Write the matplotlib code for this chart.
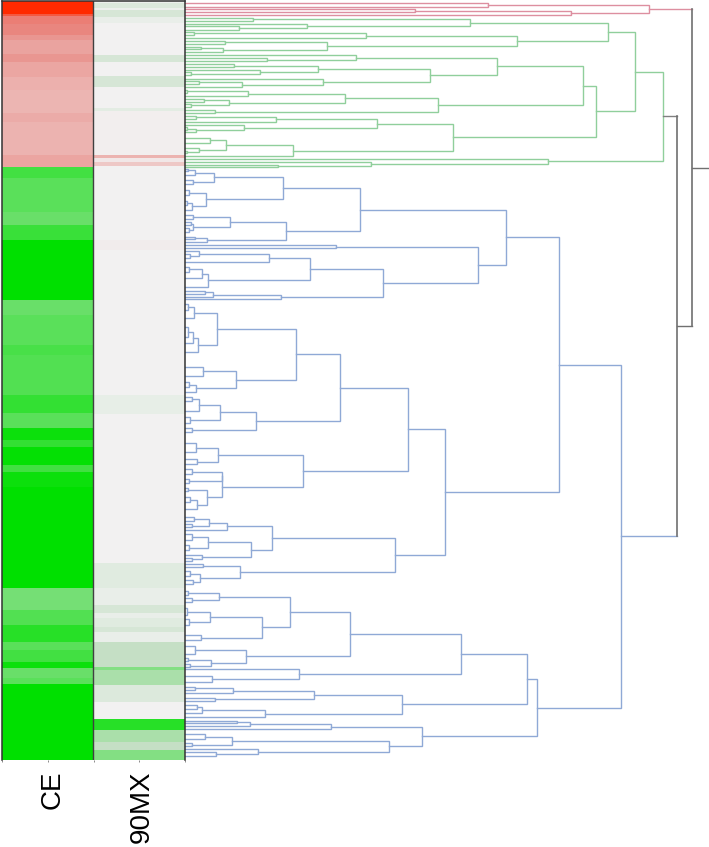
import numpy as np
import matplotlib
matplotlib.use('Agg')
import matplotlib.pyplot as plt
from matplotlib.colors import LinearSegmentedColormap
from matplotlib.transforms import ScaledTranslation

columns = ['CE', '90MX']

ce_edges = [0, 14, 16, 24, 35, 40, 54, 62, 77, 90, 113, 122, 155, 167, 178, 212, 225, 240, 300, 315, 345, 355, 395,
            413, 428, 440, 447, 465, 472, 487, 588, 610, 625, 642, 650, 662, 668, 678, 684, 760]
ce_values = [1.0, 0.75, 0.56, 0.52, 0.44, 0.38, 0.44, 0.36, 0.32, 0.29, 0.34, 0.3, 0.37, -0.75, -0.65, -0.6, -0.78,
             -1.0, -0.6, -0.65, -0.72, -0.68, -0.8, -0.65, -0.95, -0.8, -0.98, -0.75, -0.95, -1.0, -0.55, -0.68,
             -0.85, -0.65, -0.75, -0.95, -0.6, -0.65, -1.0]

mx_edges = [0, 3, 8, 10, 17, 23, 55, 62, 76, 87, 108, 111, 155, 158, 162, 166, 240, 250, 395, 414, 563, 588, 605, 613,
            618, 627, 632, 642, 667, 670, 685, 702, 719, 730, 742, 750, 760]
mx_values = [-0.03, -0.12, -0.03, -0.15, -0.05, 0, -0.15, 0, -0.15, 0, -0.08, 0.02, 0.3, 0.05, 0.2, 0, 0.03, 0,
             -0.06, 0, -0.1, -0.05, -0.15, -0.05, -0.1, -0.15, -0.05, -0.25, -0.5, -0.35, -0.12, 0, -0.85, -0.35,
             -0.25, -0.5]

# trees: (merge height, child, child), a plain number is a leaf row
red_tree = (649, (488, 2.7, 6.8), (571, (415, 8.8, 12.2), 15.2))

green_tree = (663,
    (635,
        (608,
            (470, (253, 17.9, 20.9), (307, 23.6, (239, 26.4, 29.7))),
            (517,
                (366, (194, 32.1, 34.8), 37.8),
                (327, (225, 40.9, 43.9), (223, (201, 46.6, 49.3), 52.4)))),
        (596,
            (583,
                (497,
                    (356, 55.4, (267, 58.1, 61.1)),
                    (430,
                        (318, (234, 64.2, 66.9), (260, 69.9, (191, 72.3, 75))),
                        (323, 78.7, (242, (199, 81.1, 83.8), 86.8)))),
                (438,
                    (345,
                        (248, (187, 89.9, 92.6), 95.9),
                        (229, (204, 98.6, 101.7), (191, 104, 106.8))),
                    (215, 109.8, 113.2))),
            (453,
                (377,
                    (276, (196, 115.9, 118.6), 121.6),
                    (244, 125, (196, (187, 127.4, 130), 132))),
                (293,
                    (226, (210, 137.5, 143.2), (199, 147.6, (187, 151, 153))),
                    156)))),
    (548, 158.8, (371, 162.2, (278, 165.2, 166.6))))

blue_top = (506,
    (360,
        (283,
            (214, (195, (188, 169, 171), 175), (193, 180.3, 184)),
            (206, (189, 190.3, 195), (192, (187, 200.5, 204.5), 209.7))),
        (286,
            (230, (193, 215.3, 219.3), (193, (191, 222, 225), (189, 228, 232))),
            (207, (195, 236.7, 239), 242.3))),
    (478,
        (336, 245.3, 248),
        (383,
            (310,
                (269, (199, 251, (190, 253.7, 258.3)), 262.3),
                (208, (202, (189, 266.7, 271.7), 278.3), 286.7)),
            (281, (213, (205, 291, 293.7), 296.7), 299.3))))

blue_mid = (408,
    (340,
        (296,
            (217, (194, (188, 304, 310), 318.3),
                (198, (193, (188, 327.3, 336.7), 343.3), 352.3)),
            (236, (203, 366.7, 375.7), (196, (189, 382.3, 386.7), 391.7))),
        (256,
            (220, (199, (192, 396.7, 401), 411), (190, 417.3, 422.7)),
            (192, 427.7, 432.3))),
    (303,
        (218, (196, 443.3, 451.7), (197, 459.3, 464.3)),
        (222,
            (222, (192, 469, 474), (189, 479.3, 482.7)),
            (207, (188, 488.3, 491), (197, (190, 497.3, 502.3), 509.3)))))

blue_low = (395,
    (272,
        (227, (209, (194, 517.3, 521.3), (192, 524.3, 527.3)), 529.7),
        (251, (208, (192, 534.3, 539.7), (189, 545.3, 549.7)), (202, 554.7, (192, 558, 560.5)))),
    (240, (203, 564, 567), (200, (190, 571, 576), (193, 580, 584))))

blue_bottom = (537,
    (527,
        (461,
            (350,
                (290,
                    (219, (188, 591, 595), (192, 598.3, 602.3)),
                    (262, (210, (187, 608.3, 615), (189, 619.3, 625)), (201, 635, 640))),
                (246, (195, 646, 654), (211, (188, 658, 661), (190, 664, 667)))),
            (299, 669.3, (212, 675.7, 682))),
        (402,
            (314, (233, (195, 686.5, 689.5), 693.3), (215, 698, 700.7)),
            (265, (202, (197, 705, 709), 713.3), 717.3))),
    (422,
        (331, (250, (237, 720.7, 723.3), 726.3), 729.3),
        (389,
            (232, (205, 734, 739), (192, 743.3, 746)),
            (258, 749.3, (216, 752, 756)))))

blue_tree = (621, (559, blue_top, (445, blue_mid, blue_low)), blue_bottom)

link_low = 677
link_high = 692
leaf_height = 185

cmap = LinearSegmentedColormap.from_list('rg', [(0, '#00e000'), (0.375, '#c4dfc4'), (0.5, '#f2f2f2'),
                                                (0.75, '#e88a85'), (1, '#ff2a00')])


def draw_tree(ax, node, color):
    # returns (height, row) of the node, draws its bracket
    if not isinstance(node, tuple):
        return leaf_height, node
    h, a, b = node
    ha, ya = draw_tree(ax, a, color)
    hb, yb = draw_tree(ax, b, color)
    ax.plot([ha, h, h, hb], [ya, ya, yb, yb], color=color, lw=1.0, solid_joinstyle='miter')
    return h, (ya + yb) / 2


fig = plt.figure(figsize=(7.09, 8.47), dpi=100)
W, H = 709, 847
ax = fig.add_axes([2 / W, 1 - 760 / H, 183 / W, 759 / H])
ax.pcolormesh([0, 1], ce_edges, np.array(ce_values)[:, None], cmap=cmap, vmin=-1, vmax=1)
ax.pcolormesh([1, 2], mx_edges, np.array(mx_values)[:, None], cmap=cmap, vmin=-1, vmax=1)
ax.set_xlim(0, 2)
ax.set_ylim(760, 1)
ax.axvline(0.99, color='#404040', lw=1.0)
ax.set_yticks([])
ax.set_xticks([0.5, 1.5])
ax.set_xticks([0, 1, 2], minor=True)
ax.set_xticklabels(columns, rotation=90, family='Liberation Sans', fontsize=20, va='top')
ax.tick_params(axis='x', which='both', length=1.5, width=0.6, color='#777777', pad=6)
ax.spines['bottom'].set_visible(False)
for s in ['top', 'left', 'right']:
    ax.spines[s].set_linewidth(1.1)
    ax.spines[s].set_color('#333333')
for label, dx in zip(ax.get_xticklabels(), [5, 3]):
    label.set_transform(label.get_transform() + ScaledTranslation(dx / 100, 0, fig.dpi_scale_trans))

dn = fig.add_axes([185 / W, 1 - 760 / H, 524 / W, 759 / H])
dn.patch.set_alpha(0)
dn.set_xlim(185, 709)
dn.set_ylim(760, 1)
dn.axis('off')
dn.set_zorder(-1)

hr, yr = draw_tree(dn, red_tree, '#dd8fa0')
hg, yg = draw_tree(dn, green_tree, '#90cf9c')
hb, yb = draw_tree(dn, blue_tree, '#8fa9d6')

# top links joining the three clusters
dn.plot([hr, link_high], [yr, yr], color='#dd8fa0', lw=1.0)
dn.plot([hg, link_low], [yg, yg], color='#808080', lw=1.0)
dn.plot([hb, link_low], [yb, yb], color='#8fa9d6', lw=1.0)
dn.plot([link_low, link_low], [yg, yb], color='#707070', lw=1.2)
ylow = (yg + yb) / 2
dn.plot([link_low, link_high], [ylow, ylow], color='#707070', lw=1.0)
dn.plot([link_high, link_high], [yr, ylow], color='#707070', lw=1.2)
ytop = (yr + ylow) / 2
dn.plot([link_high, 709], [ytop, ytop], color='#707070', lw=1.0)

fig.savefig('out.png', dpi=100)
